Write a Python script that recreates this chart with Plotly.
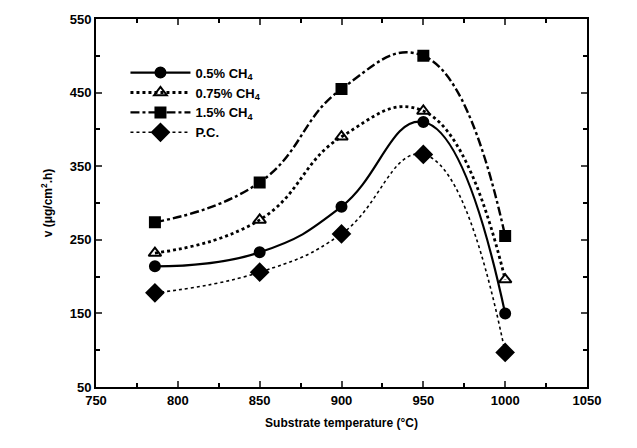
import plotly.graph_objects as go

temps = [786, 850, 900, 950, 1000]
ch4_05 = [214, 233, 295, 410, 150]
ch4_075 = [232, 277, 390, 425, 196]
ch4_15 = [274, 328, 455, 500, 255]
pc = [178, 206, 258, 366, 97]

names = ["0.5% CH<sub>4</sub>", "0.75% CH<sub>4</sub>", "1.5% CH<sub>4</sub>", "P.C."]
series = [ch4_05, ch4_075, ch4_15, pc]
symbols = ["circle", "triangle-up-open", "square", "diamond"]
sizes = [10, 11, 10, 13]
dashes = ["solid", "dot", "dashdot", "dot"]
widths = [2.2, 2.8, 2.4, 1.6]

fig = go.Figure()
for n, ys, sym, sz, d, w in zip(names, series, symbols, sizes, dashes, widths):
    fig.add_trace(go.Scatter(
        x=temps, y=ys, name=n, mode="lines+markers",
        line=dict(color="black", width=w, dash=d, shape="spline", smoothing=1.3),
        marker=dict(symbol=sym, size=sz, color="black",
                    line=dict(color="black", width=2)),
    ))

font_fam = "Liberation Sans, Arial, sans-serif"
fig.update_layout(
    width=637, height=448,
    margin=dict(l=96, r=50, t=14, b=61),
    paper_bgcolor="white", plot_bgcolor="white",
    font=dict(family=font_fam, size=12, color="black"),
    showlegend=True,
    legend=dict(x=0.06, y=0.895, xanchor="left", yanchor="top",
                bgcolor="rgba(0,0,0,0)", font=dict(size=13, family=font_fam, weight="bold"),
                tracegroupgap=0, itemwidth=60),
    xaxis=dict(range=[750, 1050], dtick=50, tick0=750, ticks="inside", ticklen=6, tickwidth=1.5,
               showline=True, linecolor="black", linewidth=2, mirror="ticks",
               showgrid=False, zeroline=False,
               tickfont=dict(size=13, weight="bold"),
               minor=dict(dtick=25, ticks="inside", ticklen=4, tickwidth=1.5, tickcolor="black"),
               title=dict(text="Substrate temperature (°C)", font=dict(size=12, weight="bold"), standoff=12)),
    yaxis=dict(range=[50, 550], dtick=100, tick0=50, ticks="inside", ticklen=6, tickwidth=1.5,
               showline=True, linecolor="black", linewidth=2, mirror="ticks",
               showgrid=False, zeroline=False,
               tickfont=dict(size=13, weight="bold"),
               minor=dict(dtick=50, ticks="inside", ticklen=4, tickwidth=1.5, tickcolor="black"),
               title=dict(text="v (μg/cm<sup>2</sup>.h)", font=dict(size=12, weight="bold"), standoff=14)),
)

fig.write_html("out.html")
